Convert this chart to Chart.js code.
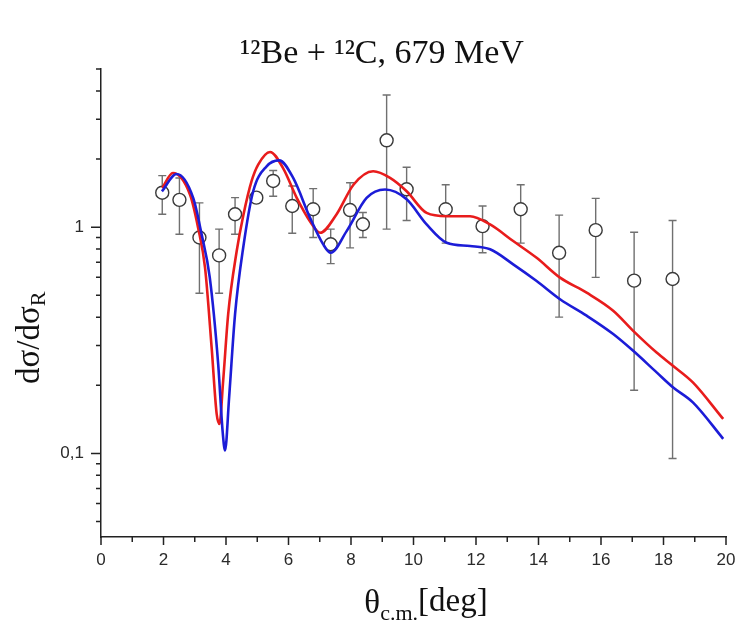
<!DOCTYPE html>
<html>
<head>
<meta charset="utf-8">
<script src="https://cdn.jsdelivr.net/npm/chart.js@4.4.0/dist/chart.umd.min.js"></script>
<style>
  body { margin: 0; background: #fff; }
  canvas { display: block; }
</style>
</head>
<body>
<canvas id="chart" width="738" height="631"></canvas>
<script>
'use strict';

// measured points (angle in deg, ratio to Rutherford, error bar ends)
var expAngle   = [1.96, 2.51, 3.15, 3.78, 4.29, 4.97, 5.51, 6.12, 6.79, 7.35, 7.97, 8.38, 9.14, 9.78, 11.03, 12.21, 13.43, 14.66, 15.83, 17.06, 18.29];
var expValue   = [1.42, 1.32, 0.90, 0.75, 1.14, 1.35, 1.60, 1.24, 1.20, 0.84, 1.19, 1.03, 2.42, 1.47, 1.20, 1.01, 1.20, 0.77, 0.97, 0.58, 0.59];
var expErrHigh = [1.69, 1.65, 1.28, 0.98, 1.35, 1.40, 1.78, 1.52, 1.48, 0.98, 1.57, 1.16, 3.84, 1.84, 1.54, 1.24, 1.54, 1.13, 1.34, 0.95, 1.07];
var expErrLow  = [1.14, 0.93, 0.51, 0.51, 0.93, 1.29, 1.37, 0.94, 0.90, 0.69, 0.81, 0.90, 0.98, 1.07, 0.85, 0.77, 0.85, 0.40, 0.60, 0.19, 0.095];

// red calculation
var redAngle = [1.96, 2.30, 2.85, 3.11, 3.33, 3.54, 3.70, 3.79, 3.91, 4.07, 4.34, 4.55, 4.82, 5.03, 5.41, 5.83, 6.26, 6.69, 7.01, 7.54,
                8.08, 8.71, 9.25, 9.78, 10.42, 11.06, 11.81, 12.45, 13.19, 13.94, 14.69, 15.54, 16.39, 17.03, 17.78, 18.30, 18.94, 19.91];
var redValue = [1.49, 1.735, 1.39, 0.99, 0.66, 0.294, 0.150, 0.135, 0.210, 0.413, 0.78, 1.12, 1.60, 1.89, 2.15, 1.82, 1.35, 1.06, 0.944, 1.14,
                1.54, 1.765, 1.65, 1.44, 1.156, 1.118, 1.118, 1.028, 0.868, 0.732, 0.598, 0.513, 0.427, 0.348, 0.279, 0.244, 0.206, 0.142];

// blue calculation
var blueAngle = [1.95, 2.42, 2.95, 3.22, 3.48, 3.75, 3.89, 3.97, 4.10, 4.29, 4.55, 4.87, 5.30, 5.70, 6.15, 6.69, 7.11, 7.35, 7.86, 8.50,
                 9.09, 9.78, 10.42, 11.06, 11.81, 12.45, 13.19, 13.94, 14.69, 15.54, 16.39, 17.03, 17.78, 18.30, 18.94, 19.91];
var blueValue = [1.44, 1.717, 1.346, 0.929, 0.60, 0.248, 0.126, 0.103, 0.177, 0.413, 0.811, 1.441, 1.857, 1.973, 1.649, 1.099, 0.839, 0.770, 0.960, 1.346,
                 1.466, 1.328, 1.028, 0.853, 0.825, 0.798, 0.685, 0.578, 0.480, 0.406, 0.337, 0.284, 0.228, 0.196, 0.168, 0.116];

// axes
var yMajorTicks  = [0.1, 1];
var yMajorLabels = ['0,1', '1'];
var yMinorTicks  = [0.05, 0.06, 0.07, 0.08, 0.09, 0.2, 0.3, 0.4, 0.5, 0.6, 0.7, 0.8, 0.9, 2, 3, 4, 5];
var xMin = 0, xMax = 20;

function pairs(xs, ys) {
  return xs.map(function (x, i) { return {x: x, y: ys[i]}; });
}

function majorIndex(v) {
  for (var i = 0; i < yMajorTicks.length; i++) {
    if (Math.abs(yMajorTicks[i] - v) < 1e-9) return i;
  }
  return -1;
}

// error bars under the circles
var errorBars = {
  id: 'errorBars',
  beforeDatasetsDraw: function (chart) {
    var ctx = chart.ctx, xs = chart.scales.x, ys = chart.scales.y;
    ctx.save();
    ctx.strokeStyle = '#707070';
    ctx.lineWidth = 1.4;
    for (var i = 0; i < expAngle.length; i++) {
      var px = xs.getPixelForValue(expAngle[i]);
      var top = ys.getPixelForValue(expErrHigh[i]);
      var bot = ys.getPixelForValue(expErrLow[i]);
      ctx.beginPath();
      ctx.moveTo(px, top); ctx.lineTo(px, bot);
      ctx.moveTo(px - 4, top); ctx.lineTo(px + 4, top);
      ctx.moveTo(px - 4, bot); ctx.lineTo(px + 4, bot);
      ctx.stroke();
    }
    ctx.restore();
  }
};

// tick marks (long for labelled, short for the rest) and the titles
var decorations = {
  id: 'decorations',
  afterDraw: function (chart) {
    var ctx = chart.ctx, xs = chart.scales.x, ys = chart.scales.y;
    var area = chart.chartArea;
    ctx.save();
    ctx.strokeStyle = '#222';
    ctx.lineWidth = 1.5;
    ctx.beginPath();
    xs.ticks.forEach(function (t) {
      var px = xs.getPixelForValue(t.value);
      var len = (t.value % 2 === 0) ? 8 : 5;
      ctx.moveTo(px, area.bottom); ctx.lineTo(px, area.bottom + len);
    });
    yMajorTicks.forEach(function (v) {
      var py = ys.getPixelForValue(v);
      ctx.moveTo(area.left, py); ctx.lineTo(area.left - 10, py);
    });
    yMinorTicks.forEach(function (v) {
      var py = ys.getPixelForValue(v);
      ctx.moveTo(area.left, py); ctx.lineTo(area.left - 5, py);
    });
    ctx.stroke();

    ctx.fillStyle = '#111';
    ctx.textBaseline = 'alphabetic';

    // main title
    ctx.font = '34px "Liberation Serif"';
    ctx.textAlign = 'center';
    ctx.fillText('\u00b9\u00b2Be + \u00b9\u00b2C, 679 MeV', 382, 63);

    // x title: theta with c.m. subscript
    ctx.textAlign = 'left';
    var big = '33px "Liberation Serif"', small = '22px "Liberation Serif"';
    ctx.font = big;
    var w1 = ctx.measureText('\u03b8').width;
    ctx.font = small;
    var w2 = ctx.measureText('c.m.').width;
    ctx.font = big;
    var w3 = ctx.measureText('[deg]').width;
    var x0 = 426 - (w1 + w2 + w3) / 2;
    var base = 613;
    ctx.font = big;
    ctx.fillText('\u03b8', x0, base);
    ctx.font = small;
    ctx.fillText('c.m.', x0 + w1, base + 7);
    ctx.font = big;
    ctx.fillText('[deg]', x0 + w1 + w2, base - 2);

    // y title: dsigma/dsigma_R, rotated
    ctx.save();
    ctx.translate(39, 384);
    ctx.rotate(-Math.PI / 2);
    ctx.font = big;
    ctx.fillText('d\u03c3/d\u03c3', 0, 0);
    var wy = ctx.measureText('d\u03c3/d\u03c3').width;
    ctx.font = small;
    ctx.fillText('R', wy, 6);
    ctx.restore();

    ctx.restore();
  }
};

new Chart(document.getElementById('chart'), {
  type: 'scatter',
  data: {
    datasets: [
      {
        label: 'blue',
        data: pairs(blueAngle, blueValue),
        showLine: true,
        borderColor: 'rgb(28,28,215)',
        borderWidth: 2.6,
        pointRadius: 0,
        cubicInterpolationMode: 'monotone',
        order: 0
      },
      {
        label: 'red',
        data: pairs(redAngle, redValue),
        showLine: true,
        borderColor: 'rgb(232,28,28)',
        borderWidth: 2.6,
        pointRadius: 0,
        cubicInterpolationMode: 'monotone',
        order: 1
      },
      {
        label: 'data',
        data: pairs(expAngle, expValue),
        showLine: false,
        pointRadius: 6.5,
        pointBorderWidth: 1.4,
        pointBorderColor: '#3a3a3a',
        pointBackgroundColor: '#fff',
        order: 2
      }
    ]
  },
  options: {
    responsive: false,
    animation: false,
    layout: { padding: { left: 0, top: 69, right: 12, bottom: 0 } },
    plugins: {
      legend: { display: false },
      tooltip: { enabled: false },
      title: { display: false }
    },
    scales: {
      x: {
        type: 'linear',
        min: xMin,
        max: xMax,
        grid: { display: false, drawTicks: false },
        border: { display: true, color: '#222', width: 1.5 },
        ticks: {
          stepSize: 1,
          autoSkip: false,
          maxRotation: 0,
          padding: 13,
          color: '#2a2a2a',
          font: { family: '"Liberation Sans"', size: 17 },
          callback: function (v) { return v % 2 === 0 ? String(v) : ''; }
        },
        afterFit: function (scale) {
          scale.height = 94;
          scale.paddingLeft = 0;
          scale.paddingRight = 0;
        }
      },
      y: {
        type: 'logarithmic',
        min: 0.0427,
        max: 5,
        grid: { display: false, drawTicks: false },
        border: { display: true, color: '#222', width: 1.5 },
        afterBuildTicks: function (scale) {
          scale.ticks = yMajorTicks.concat(yMinorTicks).sort(function (a, b) { return a - b; })
            .map(function (v) { return {value: v}; });
        },
        ticks: {
          autoSkip: false,
          padding: 17,
          color: '#2a2a2a',
          font: { family: '"Liberation Sans"', size: 17 },
          callback: function (v) {
            var i = majorIndex(v);
            return i >= 0 ? yMajorLabels[i] : '';
          }
        },
        afterFit: function (scale) {
          scale.width = 101;
          scale.paddingTop = 0;
          scale.paddingBottom = 0;
        }
      }
    }
  },
  plugins: [errorBars, decorations]
});
</script>
</body>
</html>
